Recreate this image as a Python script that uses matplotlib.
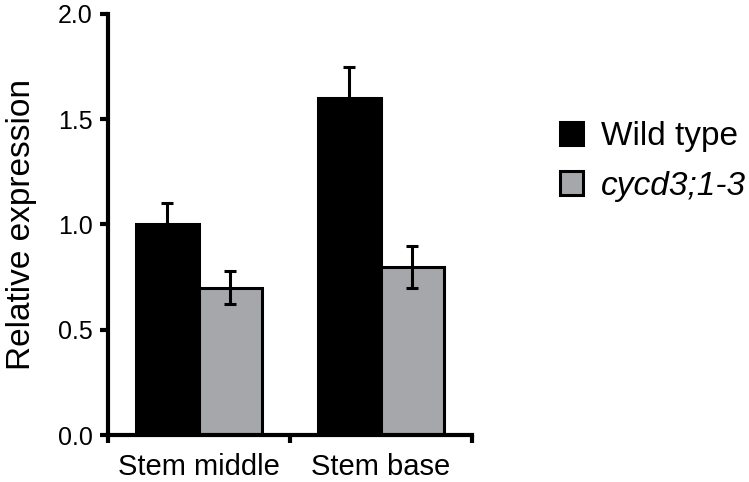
import matplotlib.pyplot as plt
import numpy as np
from matplotlib.ticker import FixedLocator

plt.rcParams['font.family'] = ['Liberation Sans', 'DejaVu Sans']

Tissues = ["Stem middle", "Stem base"]
WildType = [1.0, 1.6]
WildTypeErr = [0.10, 0.15]
Mutant = [0.70, 0.80]
MutantErr = [0.08, 0.10]
SeriesNames = ["Wild type", "cycd3;1-3"]

BarWidth = 0.345
Grey = "#a6a7aa"

fig = plt.figure(figsize=(7.49, 4.82), dpi=100)
ax = fig.add_axes([0.144, 0.0975, 0.486, 0.8735])

X = np.arange(len(Tissues))
ax.bar(X - BarWidth / 2, WildType, BarWidth, color="black", edgecolor="black",
       linewidth=2.2, label=SeriesNames[0], zorder=2)
ax.bar(X + BarWidth / 2, Mutant, BarWidth, color=Grey, edgecolor="black",
       linewidth=2.2, label=SeriesNames[1], zorder=2)
ax.errorbar(X - BarWidth / 2, WildType, yerr=WildTypeErr, fmt="none", ecolor="black",
            elinewidth=2.2, capsize=4.5, capthick=2.2, zorder=3)
ax.errorbar(X + BarWidth / 2, Mutant, yerr=MutantErr, fmt="none", ecolor="black",
            elinewidth=2.2, capsize=4.5, capthick=2.2, zorder=3)

ax.set_xlim(-0.5, 1.5)
ax.set_ylim(0, 2.0)
ax.set_yticks([0, 0.5, 1.0, 1.5, 2.0])
ax.set_yticklabels(["0.0", "0.5", "1.0", "1.5", "2.0"])
ax.set_xticks(X)
ax.set_xticklabels(Tissues)
ax.xaxis.set_minor_locator(FixedLocator([-0.5, 0.5, 1.5]))
ax.tick_params(axis="x", which="major", length=0, labelsize=21, pad=13)
ax.tick_params(axis="x", which="minor", length=6, width=3, direction="out")
ax.tick_params(axis="y", length=6, width=3, labelsize=18, direction="out", pad=5)

for s in ["top", "right"]:
    ax.spines[s].set_visible(False)
for s in ["left", "bottom"]:
    ax.spines[s].set_linewidth(3)

ax.set_ylabel("Relative expression", fontsize=24, labelpad=15)

leg = fig.legend(loc="center left", bbox_to_anchor=(0.707, 0.665), frameon=False,
                 fontsize=24, handlelength=0.7, handleheight=0.7,
                 handletextpad=0.55, labelspacing=0.55)
leg.get_texts()[1].set_fontstyle("italic")

fig.savefig("out.png", dpi=100)
